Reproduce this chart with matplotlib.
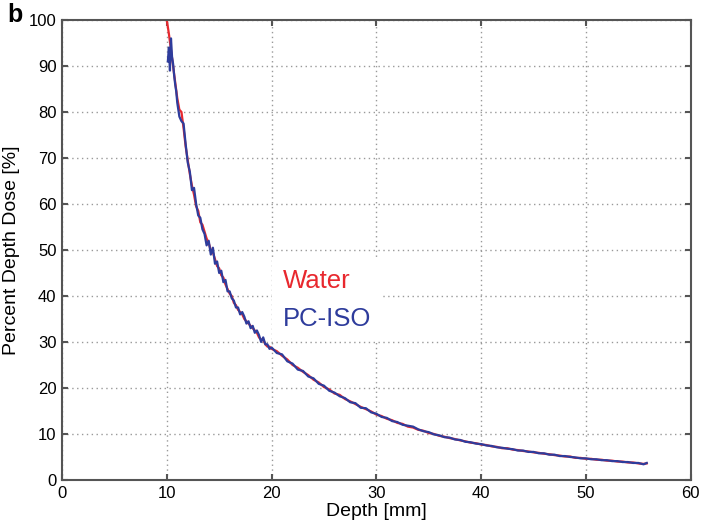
import numpy as np
import matplotlib
matplotlib.use("Agg")
import matplotlib.pyplot as plt
from matplotlib import rcParams

rcParams['font.family'] = ['Liberation Sans', 'DejaVu Sans']

# water curve (depth in mm, percent depth dose)
water_depth = [10.0, 10.2, 10.4, 10.6, 10.8, 11.0, 11.2, 11.4, 11.6, 11.8,
               12.0, 12.2, 12.4, 12.6, 12.8, 13.0, 13.2, 13.4, 13.6, 13.8,
               14.0, 14.2, 14.4, 14.6, 14.8, 15.0, 15.2, 15.4, 15.6, 15.8,
               16.0, 16.2, 16.4, 16.6, 16.8, 17.0, 17.2, 17.4, 17.6, 17.8,
               18.0, 18.2, 18.4, 18.6, 18.8, 19.0, 19.2, 19.4, 19.6, 19.8,
               20.0, 20.5, 21.0, 21.5, 22.0, 22.5, 23.0, 23.5, 24.0, 24.5,
               25.0, 25.5, 26.0, 26.5, 27.0, 27.5, 28.0, 28.5, 29.0, 29.5,
               30.0, 30.5, 31.0, 31.5, 32.0, 32.5, 33.0, 33.5, 34.0, 34.5,
               35.0, 35.5, 36.0, 36.5, 37.0, 37.5, 38.0, 38.5, 39.0, 39.5,
               40.0, 40.5, 41.0, 41.5, 42.0, 42.5, 43.0, 43.5, 44.0, 44.5,
               45.0, 45.5, 46.0, 46.5, 47.0, 47.5, 48.0, 48.5, 49.0, 49.5,
               50.0, 50.5, 51.0, 51.5, 52.0, 52.5, 53.0, 53.5, 54.0, 54.5,
               55.0, 55.5, 55.8]
water_dose = [100.0, 97.0, 93.5, 90.0, 86.5, 83.0, 80.5, 80.0, 76.5, 72.5,
              69.5, 66.5, 64.0, 62.0, 59.5, 58.5, 56.0, 55.5, 54.0, 52.5,
              51.5, 50.0, 49.5, 48.0, 46.5, 46.0, 44.5, 44.0, 42.5, 41.5,
              40.5, 40.0, 38.5, 38.0, 37.0, 36.5, 36.0, 35.0, 34.5, 34.0,
              33.5, 33.0, 32.5, 32.0, 31.0, 30.5, 30.5, 29.5, 29.0, 29.0,
              28.5, 28.0, 27.0, 26.2, 25.0, 24.4, 23.5, 22.8, 21.8, 21.2,
              20.2, 19.7, 18.8, 18.5, 17.6, 17.1, 16.5, 15.9, 15.4, 14.9,
              14.2, 13.9, 13.3, 13.0, 12.4, 12.2, 11.6, 11.4, 10.9, 10.7,
              10.2, 10.0, 9.6, 9.4, 9.1, 8.9, 8.6, 8.4, 8.1, 8.0,
              7.7, 7.6, 7.3, 7.2, 6.9, 6.9, 6.6, 6.5, 6.3, 6.2,
              6.0, 5.9, 5.7, 5.6, 5.4, 5.3, 5.1, 5.1, 4.8, 4.8,
              4.6, 4.6, 4.4, 4.4, 4.2, 4.2, 4.0, 4.0, 3.8, 3.8,
              3.6, 3.5, 3.6]

# PC-ISO curve
pciso_depth = [10.1, 10.2, 10.3, 10.4, 10.5, 10.6, 10.7, 10.8, 10.9, 11.0,
               11.2, 11.4, 11.6, 11.8, 12.0, 12.2, 12.4, 12.6, 12.8, 13.0,
               13.2, 13.4, 13.6, 13.8, 14.0, 14.2, 14.4, 14.6, 14.8, 15.0,
               15.2, 15.4, 15.6, 15.8, 16.0, 16.2, 16.4, 16.6, 16.8, 17.0,
               17.2, 17.4, 17.6, 17.8, 18.0, 18.2, 18.4, 18.6, 18.8, 19.0,
               19.2, 19.4, 19.6, 19.8, 20.0, 20.5, 21.0, 21.5, 22.0, 22.5,
               23.0, 23.5, 24.0, 24.5, 25.0, 25.5, 26.0, 26.5, 27.0, 27.5,
               28.0, 28.5, 29.0, 29.5, 30.0, 30.5, 31.0, 31.5, 32.0, 32.5,
               33.0, 33.5, 34.0, 34.5, 35.0, 35.5, 36.0, 36.5, 37.0, 37.5,
               38.0, 38.5, 39.0, 39.5, 40.0, 40.5, 41.0, 41.5, 42.0, 42.5,
               43.0, 43.5, 44.0, 44.5, 45.0, 45.5, 46.0, 46.5, 47.0, 47.5,
               48.0, 48.5, 49.0, 49.5, 50.0, 50.5, 51.0, 51.5, 52.0, 52.5,
               53.0, 53.5, 54.0, 54.5, 55.0, 55.5, 55.8]
pciso_dose = [91.0, 94.0, 89.0, 96.0, 92.0, 90.5, 88.0, 86.0, 84.5, 82.0,
              79.0, 78.0, 77.5, 73.0, 69.0, 67.0, 63.0, 63.5, 60.0, 57.5,
              57.0, 54.5, 53.5, 51.0, 52.0, 49.0, 50.5, 47.0, 47.5, 45.0,
              45.5, 43.0, 43.5, 41.0, 41.0, 39.5, 39.0, 37.5, 37.5, 36.0,
              36.5, 35.5, 34.0, 34.5, 33.0, 33.5, 32.0, 32.5, 31.5, 30.0,
              31.0, 29.5, 29.5, 28.5, 28.8, 27.6, 27.3, 25.8, 25.3, 24.0,
              23.7, 22.5, 22.1, 20.9, 20.5, 19.4, 19.0, 18.2, 17.8, 16.9,
              16.7, 15.7, 15.6, 14.7, 14.4, 13.7, 13.5, 12.8, 12.6, 12.0,
              11.8, 11.6, 11.0, 10.6, 10.4, 9.9, 9.7, 9.3, 9.2, 8.8,
              8.7, 8.3, 8.2, 7.9, 7.8, 7.5, 7.4, 7.1, 7.0, 6.8,
              6.7, 6.4, 6.4, 6.1, 6.1, 5.8, 5.8, 5.5, 5.5, 5.2,
              5.2, 5.0, 4.9, 4.7, 4.7, 4.5, 4.5, 4.3, 4.3, 4.1,
              4.1, 3.9, 3.9, 3.7, 3.7, 3.4, 3.7]

fig = plt.figure(figsize=(7.07, 5.26), dpi=100)
ax = fig.add_axes([0.0877, 0.0875, 0.8893, 0.8745])

ax.plot(water_depth, water_dose, color='#e8282e', lw=1.6, label='Water')
ax.plot(pciso_depth, pciso_dose, color='#2e3c9c', lw=1.6, label='PC-ISO')

ax.set_xlim(0, 60)
ax.set_ylim(0, 100)
ax.set_xticks(range(0, 61, 10))
ax.set_yticks(range(0, 101, 10))
ax.grid(True, color='#999999', linestyle=(0, (1, 2.5)), linewidth=1.0)
for s in ax.spines.values():
    s.set_color('#555555')
    s.set_linewidth(1.5)
ax.tick_params(direction='in', length=4, width=1.5, color='#555555',
               top=True, right=True, labelsize=12, pad=4)

ax.set_xlabel('Depth [mm]', fontsize=14, labelpad=2)
ax.set_ylabel('Percent Depth Dose [%]', fontsize=14, labelpad=6)

leg = ax.legend(loc='upper left', bbox_to_anchor=(0.314, 0.51), fontsize=18.5,
                handlelength=0, handletextpad=0, labelcolor='linecolor',
                frameon=True, fancybox=False, framealpha=1, borderpad=0.4,
                labelspacing=0.55)
leg.get_frame().set_edgecolor('none')
for h in leg.legend_handles:
    h.set_visible(False)

fig.text(0.011, 0.958, 'b', fontsize=18, fontweight='bold')

plt.savefig('out.png', dpi=100)
